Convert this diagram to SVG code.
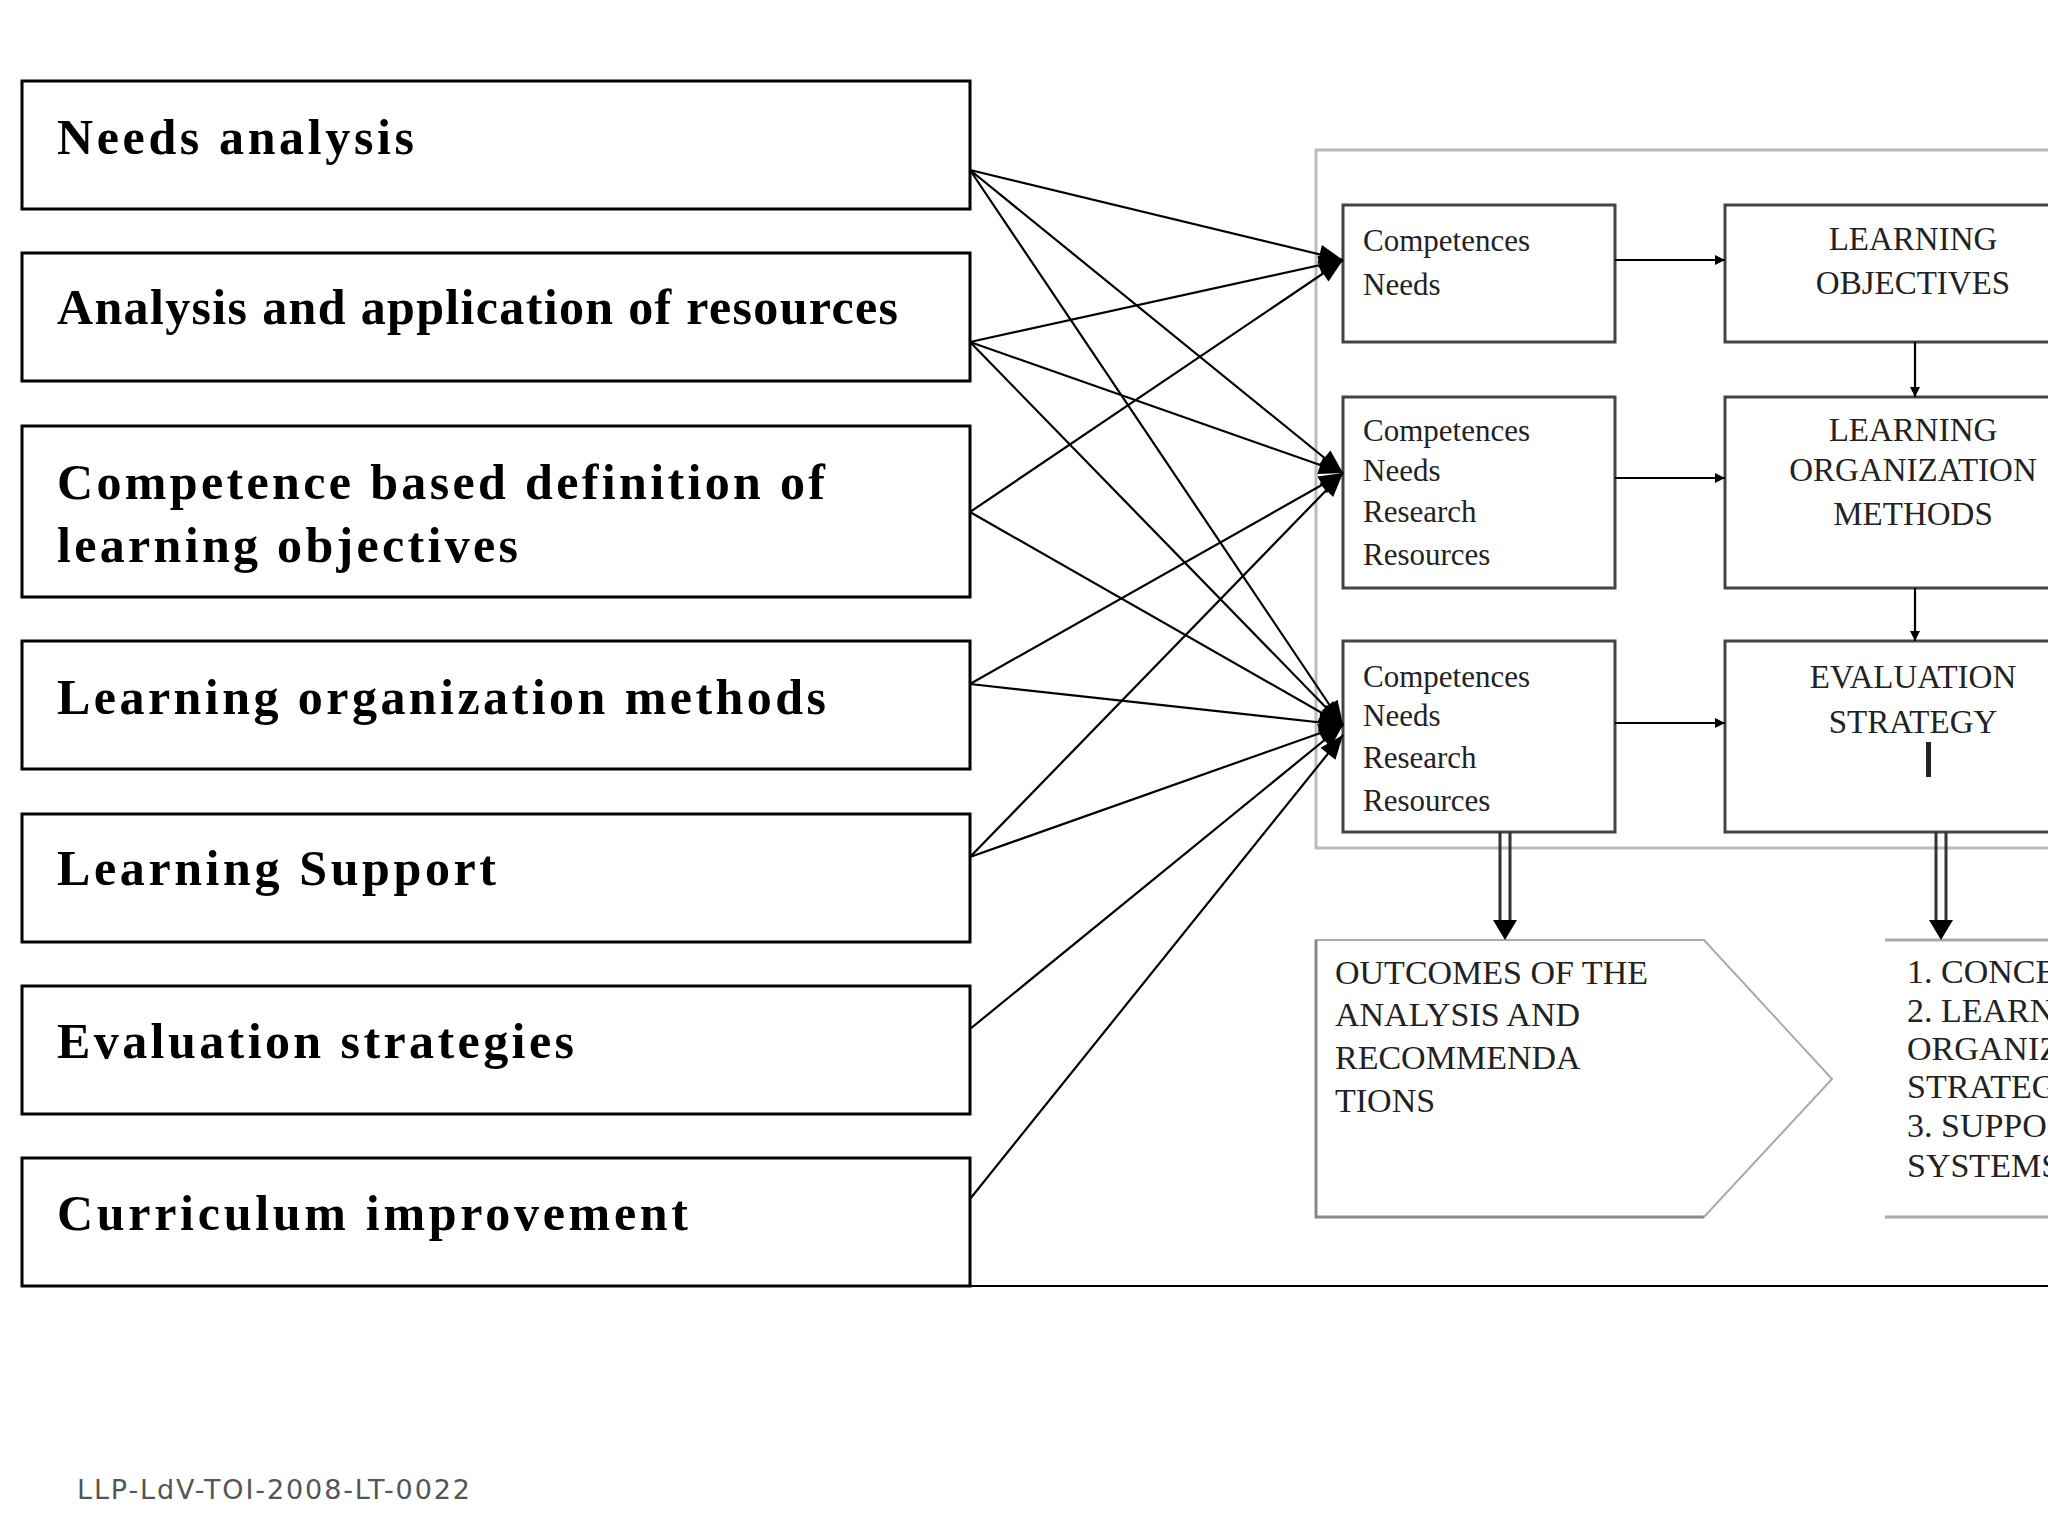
<svg xmlns="http://www.w3.org/2000/svg" width="2048" height="1536" viewBox="0 0 2048 1536">
<style>
.lb{fill:#fff;stroke:#000;stroke-width:3}
.lt{font-family:"Liberation Serif",serif;font-weight:bold;font-size:50px;fill:#000}
.sb{fill:#fff;stroke:#444;stroke-width:3}
.st{font-family:"Liberation Serif",serif;font-size:31px;fill:#222}
.rt{font-family:"Liberation Serif",serif;font-size:33px;fill:#222;text-anchor:middle}
.bt{font-family:"Liberation Serif",serif;font-size:34px;fill:#222}
.c{stroke:#000;stroke-width:2.2;fill:none}
</style>
<defs>
<marker id="ah" viewBox="0 0 10 10" refX="10" refY="5" markerWidth="12" markerHeight="10" markerUnits="userSpaceOnUse" orient="auto"><path d="M0,0L10,5L0,10z" fill="#000"/></marker>
<marker id="bh" viewBox="0 0 10 10" refX="10" refY="5" markerWidth="30" markerHeight="24" markerUnits="userSpaceOnUse" orient="auto"><path d="M0,1L10,5L0,9z" fill="#000"/></marker>
</defs>
<rect x="0" y="0" width="2048" height="1536" fill="#fff"/>
<g id="outer"><rect x="1316" y="150" width="760" height="698" fill="none" stroke="#bbb" stroke-width="3"/></g>
<g id="left1"><rect class="lb" x="22" y="81" width="948" height="128"/><text class="lt" x="57" y="154" textLength="357">Needs analysis</text></g>
<g id="left2"><rect class="lb" x="22" y="253" width="948" height="128"/><text class="lt" x="57" y="324" textLength="841">Analysis and application of resources</text></g>
<g id="left3"><rect class="lb" x="22" y="426" width="948" height="171"/><text class="lt" x="57" y="499" textLength="768">Competence based definition of</text><text class="lt" x="57" y="562" textLength="461">learning objectives</text></g>
<g id="left4"><rect class="lb" x="22" y="641" width="948" height="128"/><text class="lt" x="57" y="714" textLength="769">Learning organization methods</text></g>
<g id="left5"><rect class="lb" x="22" y="814" width="948" height="128"/><text class="lt" x="57" y="885" textLength="439">Learning Support</text></g>
<g id="left6"><rect class="lb" x="22" y="986" width="948" height="128"/><text class="lt" x="57" y="1058" textLength="517">Evaluation strategies</text></g>
<g id="left7"><rect class="lb" x="22" y="1158" width="948" height="128"/><text class="lt" x="57" y="1230" textLength="631">Curriculum improvement</text></g>
<g id="s1"><rect class="sb" x="1343" y="205" width="272" height="137"/><text class="st" x="1363" y="251">Competences</text><text class="st" x="1363" y="295">Needs</text></g>
<g id="s2"><rect class="sb" x="1343" y="397" width="272" height="191"/><text class="st" x="1363" y="441">Competences</text><text class="st" x="1363" y="481">Needs</text><text class="st" x="1363" y="522">Research</text><text class="st" x="1363" y="565">Resources</text></g>
<g id="s3"><rect class="sb" x="1343" y="641" width="272" height="191"/><text class="st" x="1363" y="687">Competences</text><text class="st" x="1363" y="726">Needs</text><text class="st" x="1363" y="768">Research</text><text class="st" x="1363" y="811">Resources</text></g>
<g id="r1"><rect class="sb" x="1725" y="205" width="360" height="137"/><text class="rt" x="1913" y="250">LEARNING</text><text class="rt" x="1913" y="294">OBJECTIVES</text></g>
<g id="r2"><rect class="sb" x="1725" y="397" width="360" height="191"/><text class="rt" x="1913" y="441">LEARNING</text><text class="rt" x="1913" y="481">ORGANIZATION</text><text class="rt" x="1913" y="525">METHODS</text></g>
<g id="r3"><rect class="sb" x="1725" y="641" width="360" height="191"/><text class="rt" x="1913" y="688">EVALUATION</text><text class="rt" x="1913" y="733">STRATEGY</text><rect x="1926" y="742" width="5" height="35" fill="#222"/></g>
<g id="outcome"><path d="M1316,940 L1704,940 L1832,1079 L1704,1217 L1316,1217 Z" fill="#fff" stroke="#aaa" stroke-width="2"/><path d="M1316,940 V1217 H1704" fill="none" stroke="#888" stroke-width="3"/>
<text class="bt" x="1335" y="984">OUTCOMES OF THE</text><text class="bt" x="1335" y="1026">ANALYSIS AND</text><text class="bt" x="1335" y="1069">RECOMMENDA</text><text class="bt" x="1335" y="1112">TIONS</text></g>
<g id="list"><path d="M1885,940 H2048 M1885,1217 H2048" stroke="#aaa" stroke-width="3"/>
<text class="bt" x="1907" y="983">1. CONCE</text><text class="bt" x="1907" y="1022">2. LEARN</text><text class="bt" x="1907" y="1060">ORGANIZ</text><text class="bt" x="1907" y="1098">STRATEG</text><text class="bt" x="1907" y="1137">3. SUPPO</text><text class="bt" x="1907" y="1177">SYSTEMS</text></g>
<g id="connectors">
<path class="c" d="M970,1286 H2048"/>
<g marker-end="url(#bh)">
<path class="c" d="M970,170 L1343,260"/><path class="c" d="M970,170 L1343,473"/><path class="c" d="M970,170 L1343,725"/>
<path class="c" d="M970,342 L1343,260"/><path class="c" d="M970,342 L1343,473"/><path class="c" d="M970,342 L1343,725"/>
<path class="c" d="M970,512 L1343,260"/><path class="c" d="M970,512 L1343,725"/>
<path class="c" d="M970,684 L1343,473"/><path class="c" d="M970,684 L1343,725"/>
<path class="c" d="M970,857 L1343,473"/><path class="c" d="M970,857 L1343,725"/>
<path class="c" d="M970,1029 L1343,725"/><path class="c" d="M970,1199 L1343,735"/>
</g>
<g marker-end="url(#ah)">
<path class="c" d="M1615,260 H1725"/><path class="c" d="M1615,478 H1725"/><path class="c" d="M1615,723 H1725"/>
<path class="c" d="M1915,342 V397"/><path class="c" d="M1915,588 V641"/>
</g>
<path d="M1500,832 V925 M1510,832 V925 M1936,832 V925 M1946,832 V925" stroke="#333" stroke-width="3"/>
<path d="M1493,920 H1517 L1505,940 Z M1929,920 H1953 L1941,940 Z" fill="#000"/>
</g>
<text x="77" y="1499" font-family="DejaVu Sans,sans-serif" font-size="27" fill="#555" textLength="393">LLP-LdV-TOI-2008-LT-0022</text>
</svg>
